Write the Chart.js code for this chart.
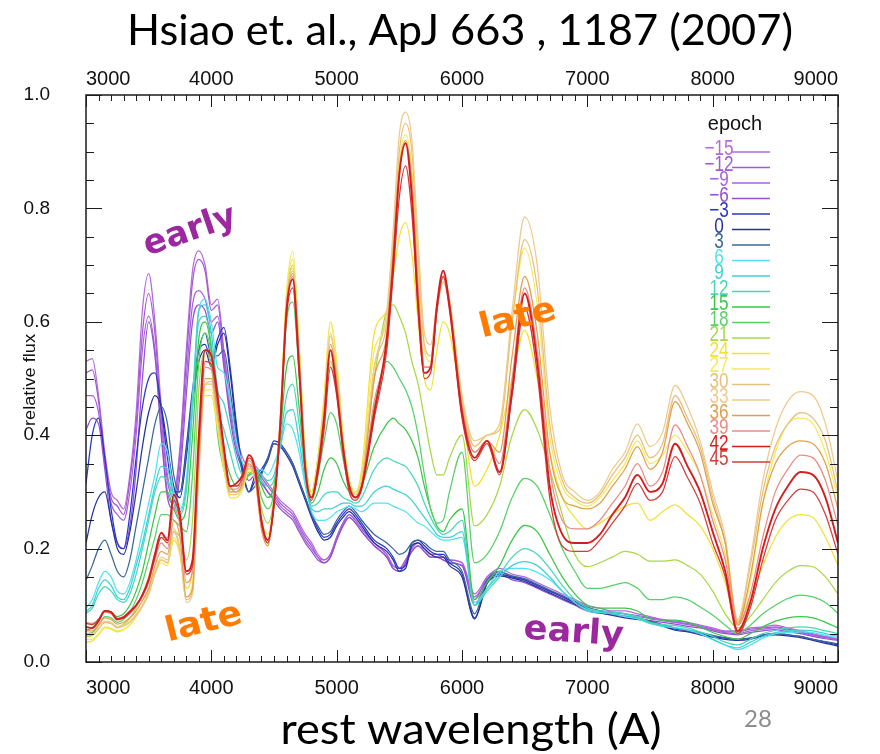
<!DOCTYPE html>
<html><head><meta charset="utf-8">
<script src="https://cdn.jsdelivr.net/npm/chart.js@4.4.1/dist/chart.umd.min.js"></script>
<style>html,body{margin:0;padding:0;background:#fff;}canvas{display:block}</style>
</head><body>
<canvas id="c" width="880" height="754"></canvas>
<script>
// ---------- data ----------
const wavelengths = [3000,3050,3100,3150,3200,3250,3300,3350,3400,3450,
3500,3550,3600,3650,3700,3750,3800,3850,3900,3950,
4000,4050,4100,4150,4200,4250,4300,4350,4400,4450,
4500,4550,4600,4650,4700,4750,4800,4850,4900,4950,
5000,5050,5100,5150,5200,
5300,5400,5450,5500,5550,5600,5650,5700,5750,5800,5850,5900,
6000,6100,6200,6300,6400,6500,6600,6700,6800,6900,
7000,7100,7200,7300,7400,7500,7600,7700,7800,7900,
8000,8100,8200,8300,8400,8500,8600,8700,8800,8900,9000];

const epochs = ['\u221215','\u221212','\u22129','\u22126','\u22123','0','3','6','9','12','15','18','21','24','27','30','33','36','39','42','45'];

const xTicks = [3000,4000,5000,6000,7000,8000,9000];
const yTicks = [0.0,0.2,0.4,0.6,0.8,1.0];

const fluxM15 = [.53,.535,.47,.37,.30,.285,.27,.33,.44,.62,
.685,.60,.45,.33,.30,.38,.55,.69,.725,.70,
.63,.64,.55,.46,.40,.36,.345,.345,.33,.315,
.30,.285,.275,.265,.245,.225,.21,.19,.18,.19,
.22,.245,.26,.25,.235,
.21,.19,.17,.165,.18,.20,.21,.20,.19,.19,.185,.18,
.175,.12,.15,.165,.155,.15,.14,.13,.12,.11,
.10,.095,.09,.09,.085,.08,.075,.072,.07,.065,
.06,.055,.055,.06,.062,.065,.06,.055,.05,.045,.042];
const fluxM12 = [.51,.515,.46,.36,.29,.275,.26,.32,.42,.58,
.65,.58,.43,.32,.29,.37,.53,.67,.71,.69,
.62,.63,.54,.45,.39,.35,.34,.34,.325,.31,
.295,.28,.27,.26,.24,.22,.205,.185,.175,.185,
.215,.24,.255,.245,.23,
.205,.185,.165,.16,.175,.195,.205,.195,.185,.185,.18,.175,
.17,.115,.145,.16,.15,.145,.135,.125,.115,.105,
.095,.09,.088,.085,.082,.078,.074,.07,.068,.063,
.058,.053,.053,.058,.06,.062,.058,.053,.048,.044,.04];
const fluxM9 = [.47,.47,.44,.35,.28,.26,.25,.30,.40,.55,
.61,.55,.41,.30,.28,.35,.50,.63,.655,.64,
.60,.61,.53,.44,.38,.345,.33,.335,.32,.30,
.29,.275,.265,.255,.235,.215,.20,.185,.18,.19,
.22,.245,.26,.25,.235,
.21,.19,.17,.165,.18,.20,.21,.20,.19,.19,.185,.18,
.175,.11,.15,.16,.15,.145,.135,.125,.115,.105,
.095,.09,.087,.085,.08,.077,.073,.07,.066,.062,
.057,.052,.05,.055,.058,.06,.056,.052,.047,.043,.04];
const fluxM6 = [.41,.43,.42,.34,.25,.21,.20,.24,.34,.50,
.60,.54,.40,.29,.27,.33,.47,.60,.63,.62,
.58,.60,.52,.43,.37,.34,.32,.33,.315,.30,
.285,.27,.26,.25,.23,.21,.195,.18,.175,.185,
.215,.24,.255,.245,.23,
.205,.185,.165,.16,.175,.195,.205,.195,.185,.185,.18,.175,
.17,.10,.145,.155,.145,.14,.13,.12,.11,.10,
.09,.086,.083,.08,.076,.073,.07,.067,.063,.06,
.055,.05,.048,.052,.055,.057,.053,.05,.045,.041,.038];
const fluxM3 = [.315,.40,.43,.36,.27,.21,.20,.26,.36,.45,
.50,.51,.45,.36,.30,.30,.38,.48,.55,.56,
.53,.57,.59,.52,.42,.34,.30,.33,.34,.36,
.39,.385,.37,.35,.32,.29,.26,.235,.22,.225,
.245,.26,.27,.26,.245,
.215,.20,.185,.165,.17,.21,.215,.205,.195,.19,.19,.175,
.155,.078,.14,.155,.15,.145,.135,.125,.115,.105,
.095,.09,.085,.08,.078,.072,.065,.058,.055,.05,
.045,.042,.04,.042,.048,.05,.048,.045,.04,.035,.03];
const flux0 = [.21,.26,.29,.30,.25,.20,.19,.23,.30,.38,
.44,.47,.45,.38,.31,.29,.36,.46,.53,.55,
.52,.56,.58,.51,.41,.335,.30,.32,.335,.355,
.385,.38,.365,.345,.315,.285,.255,.23,.215,.22,
.24,.255,.265,.255,.24,
.21,.195,.18,.16,.165,.205,.21,.20,.19,.185,.185,.17,
.15,.076,.138,.152,.148,.142,.132,.122,.112,.102,
.092,.087,.082,.078,.075,.07,.063,.056,.053,.048,
.044,.04,.038,.04,.046,.048,.046,.043,.038,.033,.028];
const flux3 = [.144,.17,.20,.215,.19,.16,.15,.18,.24,.30,
.36,.42,.45,.42,.33,.30,.37,.47,.55,.58,
.54,.54,.55,.48,.40,.33,.30,.31,.33,.36,
.385,.38,.37,.35,.32,.29,.26,.24,.225,.23,
.25,.265,.275,.265,.25,
.225,.21,.20,.19,.195,.21,.215,.21,.20,.195,.195,.18,
.16,.085,.145,.158,.152,.147,.137,.127,.117,.107,
.097,.09,.085,.08,.077,.072,.066,.06,.056,.052,
.047,.043,.04,.042,.047,.05,.048,.045,.04,.036,.032];
const flux6 = [.095,.11,.14,.16,.15,.125,.12,.14,.18,.23,
.28,.33,.385,.37,.30,.27,.32,.47,.62,.64,
.60,.52,.51,.46,.39,.35,.33,.335,.34,.33,
.35,.38,.42,.41,.37,.31,.265,.25,.25,.255,
.265,.27,.275,.27,.265,
.28,.28,.275,.27,.265,.255,.245,.24,.23,.22,.215,.215,
.22,.105,.13,.16,.165,.165,.158,.145,.125,.105,
.092,.088,.085,.08,.076,.068,.063,.06,.056,.05,
.04,.03,.022,.03,.042,.05,.052,.053,.052,.047,.042];
const flux9 = [.089,.10,.13,.145,.135,.115,.11,.13,.17,.21,
.26,.31,.345,.34,.29,.265,.31,.45,.62,.63,
.58,.48,.456,.41,.36,.33,.33,.34,.33,.32,
.33,.38,.44,.445,.39,.32,.27,.265,.27,.27,
.275,.28,.28,.275,.275,
.30,.31,.305,.30,.295,.285,.27,.255,.24,.225,.22,.22,
.23,.10,.125,.15,.17,.177,.17,.15,.125,.105,
.09,.087,.085,.082,.078,.068,.064,.06,.057,.05,
.04,.03,.025,.035,.045,.052,.055,.056,.055,.05,.045];
const flux12 = [.086,.095,.12,.133,.125,.11,.105,.12,.155,.20,
.25,.30,.327,.32,.28,.26,.30,.45,.60,.61,
.56,.45,.41,.37,.33,.32,.33,.34,.32,.31,
.32,.39,.47,.49,.42,.33,.275,.28,.295,.30,
.30,.29,.285,.28,.29,
.34,.36,.355,.35,.345,.33,.31,.28,.255,.235,.225,.23,
.25,.10,.13,.155,.185,.20,.19,.165,.135,.11,
.095,.09,.088,.085,.08,.07,.066,.064,.06,.053,
.045,.035,.03,.04,.05,.056,.06,.062,.06,.055,.05];
const flux15 = [.056,.06,.075,.09,.088,.08,.085,.10,.125,.16,
.21,.26,.30,.30,.27,.25,.27,.40,.57,.60,
.55,.42,.37,.33,.31,.315,.33,.34,.31,.29,
.31,.40,.52,.54,.45,.34,.28,.30,.34,.36,
.35,.32,.30,.29,.31,
.38,.42,.43,.42,.41,.39,.36,.31,.27,.24,.23,.25,
.27,.11,.14,.17,.215,.241,.23,.19,.15,.12,
.10,.095,.095,.095,.09,.076,.074,.074,.07,.062,
.052,.045,.04,.05,.062,.072,.078,.08,.078,.07,.06];
const flux18 = [.05,.052,.065,.08,.078,.07,.075,.088,.11,.14,
.18,.22,.26,.26,.25,.24,.23,.33,.53,.58,
.54,.40,.34,.31,.30,.31,.33,.335,.29,.27,
.30,.42,.60,.635,.51,.36,.29,.33,.39,.44,
.42,.36,.31,.30,.32,
.45,.53,.52,.50,.48,.45,.40,.33,.27,.245,.25,.30,
.37,.175,.19,.23,.29,.324,.31,.26,.20,.16,
.13,.13,.135,.14,.13,.11,.11,.115,.11,.097,
.083,.065,.05,.065,.085,.10,.112,.118,.115,.105,.086];
const flux21 = [.045,.047,.058,.07,.068,.062,.067,.077,.095,.12,
.15,.19,.22,.22,.23,.22,.18,.25,.48,.55,
.52,.42,.35,.31,.30,.31,.335,.33,.27,.245,
.29,.43,.64,.70,.55,.36,.30,.36,.45,.53,
.48,.38,.32,.30,.33,
.50,.62,.63,.61,.58,.53,.49,.43,.37,.33,.33,.36,
.40,.24,.26,.31,.40,.445,.41,.34,.26,.19,
.168,.175,.185,.195,.19,.178,.178,.18,.17,.155,
.125,.085,.06,.08,.11,.14,.16,.17,.168,.15,.12];
const flux24 = [.035,.037,.048,.06,.058,.053,.057,.065,.08,.10,
.125,.16,.18,.175,.215,.19,.13,.17,.40,.47,
.47,.41,.34,.29,.29,.305,.34,.325,.25,.225,
.285,.43,.65,.71,.56,.36,.30,.36,.47,.60,
.53,.40,.32,.30,.34,
.58,.62,.68,.75,.775,.72,.60,.50,.48,.55,.60,.58,
.45,.31,.34,.40,.50,.585,.50,.37,.29,.255,
.235,.245,.26,.275,.28,.25,.265,.277,.26,.24,
.20,.14,.065,.11,.17,.22,.25,.26,.255,.22,.17];
const flux27 = [.04,.04,.05,.062,.06,.055,.058,.066,.08,.098,
.12,.155,.175,.17,.22,.19,.115,.14,.37,.48,
.48,.42,.345,.29,.29,.305,.34,.32,.24,.215,
.28,.43,.65,.725,.56,.36,.295,.355,.46,.60,
.53,.40,.32,.30,.33,
.55,.60,.72,.88,.93,.87,.70,.55,.53,.62,.67,.64,
.47,.38,.40,.42,.60,.73,.63,.40,.31,.285,
.275,.29,.32,.35,.39,.35,.365,.40,.37,.33,
.26,.19,.07,.14,.28,.37,.42,.43,.42,.37,.29];
const flux30 = [.048,.048,.058,.07,.068,.06,.063,.07,.082,.098,
.12,.155,.18,.175,.23,.195,.11,.125,.34,.49,
.49,.43,.35,.295,.295,.31,.345,.32,.235,.21,
.28,.42,.63,.69,.54,.35,.29,.35,.45,.575,
.51,.39,.315,.295,.32,
.52,.60,.74,.90,.95,.90,.72,.56,.54,.62,.67,.63,
.46,.38,.40,.41,.60,.745,.66,.42,.32,.29,
.28,.295,.33,.36,.40,.36,.385,.47,.43,.38,
.29,.21,.072,.17,.30,.38,.42,.44,.43,.39,.30];
const flux33 = [.05,.05,.06,.072,.07,.062,.065,.072,.085,.10,
.125,.16,.185,.18,.235,.20,.105,.12,.33,.49,
.495,.435,.355,.30,.30,.315,.35,.325,.235,.205,
.28,.42,.63,.695,.54,.35,.29,.35,.45,.58,
.51,.39,.315,.295,.32,
.52,.62,.76,.93,.97,.92,.74,.58,.56,.63,.68,.64,
.47,.39,.40,.42,.62,.785,.70,.45,.33,.30,
.285,.30,.34,.37,.42,.38,.405,.488,.45,.39,
.30,.22,.075,.18,.32,.41,.46,.477,.47,.42,.32];
const flux36 = [.055,.055,.065,.078,.075,.067,.07,.078,.09,.108,
.13,.17,.195,.19,.25,.22,.115,.13,.35,.50,
.50,.44,.36,.30,.30,.315,.35,.325,.235,.205,
.28,.42,.63,.685,.535,.35,.29,.345,.44,.56,
.50,.385,.315,.29,.31,
.50,.58,.72,.87,.92,.85,.66,.52,.52,.62,.68,.63,
.45,.37,.39,.37,.54,.68,.58,.37,.29,.275,
.27,.28,.31,.34,.38,.34,.37,.459,.42,.37,
.28,.21,.068,.15,.28,.35,.38,.39,.385,.35,.27];
const flux39 = [.07,.068,.075,.088,.085,.075,.078,.085,.098,.115,
.14,.18,.21,.20,.27,.24,.14,.16,.37,.52,
.515,.45,.37,.305,.305,.32,.355,.33,.24,.21,
.28,.42,.62,.68,.53,.345,.29,.34,.43,.55,
.49,.38,.31,.29,.31,
.46,.56,.70,.86,.915,.84,.66,.52,.52,.62,.68,.63,
.45,.37,.39,.35,.50,.66,.55,.34,.25,.235,
.235,.25,.28,.31,.35,.31,.335,.418,.38,.33,
.25,.18,.065,.12,.22,.30,.34,.365,.36,.32,.24];
const flux42 = [.062,.060,.072,.090,.088,.075,.078,.088,.100,.118,
.145,.19,.228,.215,.295,.26,.16,.18,.40,.55,
.54,.47,.38,.31,.315,.33,.365,.34,.25,.215,
.28,.42,.62,.675,.52,.34,.29,.34,.43,.55,
.48,.38,.31,.29,.31,
.44,.57,.70,.86,.915,.82,.63,.51,.52,.63,.69,.63,
.44,.36,.39,.335,.48,.65,.53,.31,.225,.21,
.21,.225,.26,.29,.33,.30,.315,.385,.345,.30,
.23,.16,.055,.105,.20,.27,.31,.335,.33,.29,.21];
const flux45 = [.068,.066,.075,.09,.088,.077,.08,.09,.10,.118,
.145,.185,.22,.21,.285,.25,.155,.17,.38,.53,
.525,.46,.375,.31,.31,.325,.36,.335,.245,.21,
.275,.41,.61,.66,.51,.335,.285,.33,.41,.52,
.47,.37,.30,.285,.305,
.43,.55,.68,.82,.875,.79,.62,.50,.51,.62,.68,.62,
.43,.355,.385,.33,.47,.625,.51,.29,.205,.195,
.195,.215,.245,.275,.315,.285,.30,.362,.325,.28,
.21,.15,.05,.095,.18,.25,.285,.305,.30,.26,.19];

const allFlux = [fluxM15,fluxM12,fluxM9,fluxM6,fluxM3,flux0,flux3,flux6,flux9,flux12,flux15,flux18,flux21,flux24,flux27,flux30,flux33,flux36,flux39,flux42,flux45];

// ---------- styles ----------
const colors = ['#b46adc','#a558d2','#a862e0','#9550d2','#2a36c8','#24339e','#3a6894','#52e2f2','#40d0d6','#46d8b6','#3cc648','#58d068','#a8d848','#f2e232','#f6ea5a','#e6c07e','#f0c98c','#e0a04e','#e88c88','#d41e1e','#d63a3a'];

allFlux.forEach((a,i)=>{ if(a.length!==wavelengths.length) throw new Error('length mismatch in series '+epochs[i]+': '+a.length); });

const datasets = allFlux.map((arr,i)=>({
  label: epochs[i],
  data: wavelengths.map((w,j)=>({x:w,y:arr[j]})),
  borderColor: colors[i],
  borderWidth: i===19 ? 1.9 : 1.25,
  pointRadius: 0,
  fill: false,
  cubicInterpolationMode: 'monotone',
  order: i===19 ? -1 : (20-i)
}));

// ---------- plugins ----------
const frameTicks = {
  id:'frameTicks',
  afterDraw(chart){
    const {ctx, chartArea:a, scales} = chart;
    const xs = scales.x, ys = scales.y;
    ctx.save();
    ctx.strokeStyle = '#1c1c1c';
    ctx.lineWidth = 1;
    ctx.beginPath();
    for(let w=3000; w<=9000; w+=100){
      const px = Math.round(xs.getPixelForValue(w))+0.5;
      const len = (w%1000===0)?12:6;
      ctx.moveTo(px,a.bottom); ctx.lineTo(px,a.bottom-len);
      ctx.moveTo(px,a.top); ctx.lineTo(px,a.top+len);
    }
    for(let k=0;k<=20;k++){
      const py = Math.round(ys.getPixelForValue(k*0.05))+0.5;
      const len = (k%4===0)?16:8;
      ctx.moveTo(a.left,py); ctx.lineTo(a.left+len,py);
      ctx.moveTo(a.right,py); ctx.lineTo(a.right-len,py);
    }
    ctx.stroke();
    ctx.lineWidth = 1.5;
    ctx.strokeRect(a.left, a.top, a.right-a.left, a.bottom-a.top);
    ctx.restore();
  }
};

function drawFitted(ctx, text, o){
  ctx.save();
  ctx.font = (o.weight||'normal')+' '+o.size+'px '+o.family;
  const w = ctx.measureText(text).width;
  const sx = o.width ? o.width/w : (o.sx||1);
  ctx.translate(o.x, o.y);
  if(o.rot) ctx.rotate(o.rot*Math.PI/180);
  ctx.scale(sx,1);
  ctx.fillStyle = o.color||'#000';
  ctx.textAlign = o.align||'center';
  ctx.textBaseline = o.baseline||'alphabetic';
  ctx.fillText(text,0,0);
  ctx.restore();
}

const texts = {
  id:'texts',
  afterDraw(chart){
    const ctx = chart.ctx;
    drawFitted(ctx,'Hsiao et. al., ApJ 663 , 1187 (2007)',{x:460,y:45,size:42,family:'Lato',width:666,color:'#000'});
    drawFitted(ctx,'rest wavelength (A)',{x:471,y:744,size:42,family:'Lato',width:381,color:'#000'});
    drawFitted(ctx,'28',{x:758,y:727,size:24,family:'Lato',color:'#8c8c8c'});
    drawFitted(ctx,'relative flux',{x:35,y:380,size:17,family:'Liberation Sans',width:92,rot:-90,color:'#111'});
    drawFitted(ctx,'epoch',{x:735,y:130,size:20,family:'Liberation Sans',color:'#111'});
    chart.data.datasets.forEach((ds,i)=>{
      const ly = 152 + i*15.5;
      drawFitted(ctx, ds.label, {x:719,y:ly+3,size:22,family:'Liberation Sans',sx:0.78,color:ds.borderColor});
      ctx.save();
      ctx.strokeStyle = ds.borderColor; ctx.lineWidth = 1.5;
      ctx.beginPath(); ctx.moveTo(732,ly); ctx.lineTo(770,ly); ctx.stroke();
      ctx.restore();
    });
    const purple = '#9c279f', orange = '#ff7c00';
    drawFitted(ctx,'early',{x:193,y:240,size:34,family:'DejaVu Sans',weight:'bold',width:96,rot:-19,color:purple});
    drawFitted(ctx,'late',{x:206,y:632,size:34,family:'DejaVu Sans',weight:'bold',width:78,rot:-14,color:orange});
    drawFitted(ctx,'late',{x:520,y:328,size:34,family:'DejaVu Sans',weight:'bold',width:78,rot:-14,color:orange});
    drawFitted(ctx,'early',{x:573,y:642,size:34,family:'DejaVu Sans',weight:'bold',width:100,rot:4,color:purple});
  }
};

// ---------- chart ----------
const tickFont = {family:'Liberation Sans', size:20};
new Chart(document.getElementById('c').getContext('2d'), {
  type:'line',
  data:{datasets},
  options:{
    responsive:false,
    animation:false,
    devicePixelRatio:1,
    layout:{padding:{left:0,right:42,top:0,bottom:0}},
    plugins:{legend:{display:false},tooltip:{enabled:false},title:{display:false}},
    scales:{
      x:{type:'linear',position:'bottom',min:3000,max:9000,
         afterBuildTicks:s=>{s.ticks = xTicks.map(v=>({value:v}));},
         afterFit:s=>{s.height=92;},
         ticks:{align:'inner',font:tickFont,color:'#111',padding:14,maxRotation:0,autoSkip:false,callback:v=>String(v)},
         grid:{display:false,drawTicks:false},border:{display:false}},
      x2:{type:'linear',position:'top',min:3000,max:9000,
         afterBuildTicks:s=>{s.ticks = xTicks.map(v=>({value:v}));},
         afterFit:s=>{s.height=95;},
         ticks:{align:'inner',font:tickFont,color:'#111',padding:4,maxRotation:0,autoSkip:false,callback:v=>String(v)},
         grid:{display:false,drawTicks:false},border:{display:false}},
      y:{type:'linear',position:'left',min:0,max:1,
         afterBuildTicks:s=>{s.ticks = yTicks.map(v=>({value:v}));},
         afterFit:s=>{s.width=86;},
         ticks:{font:{family:'Liberation Sans',size:19},color:'#111',padding:36,callback:v=>v.toFixed(1)},
         grid:{display:false,drawTicks:false},border:{display:false}}
    }
  },
  plugins:[frameTicks, texts]
});
</script>
</body></html>
